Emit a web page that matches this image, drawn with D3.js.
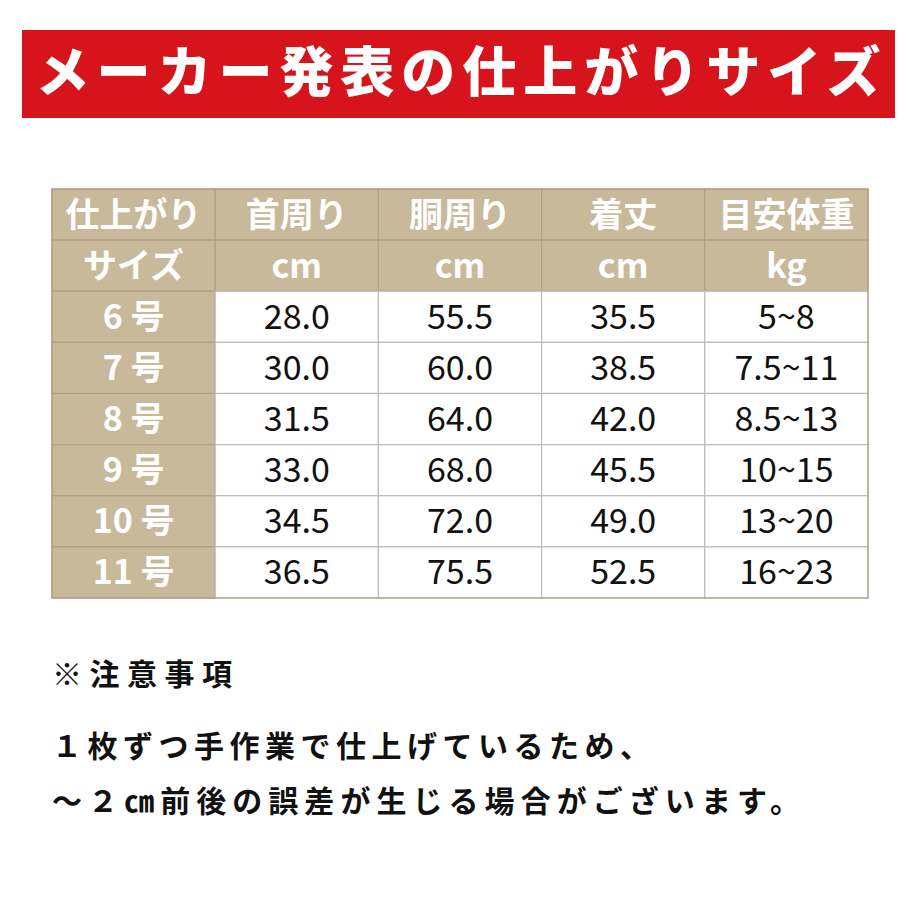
<!DOCTYPE html>
<html><head><meta charset="utf-8">
<script src="https://cdn.jsdelivr.net/npm/d3@7"></script>
<style>body{margin:0;background:#fff}</style>
</head><body>
<svg id="c" width="920" height="920"></svg>
<script>
const title = "メーカー発表の仕上がりサイズ"
const headers = ["首周り","胴周り","着丈","目安体重"]
const units = ["cm","cm","cm","kg"]
const sizes = ["6 号","7 号","8 号","9 号","10 号","11 号"]
const neck = ["28.0","30.0","31.5","33.0","34.5","36.5"]
const chest = ["55.5","60.0","64.0","68.0","72.0","75.5"]
const length = ["35.5","38.5","42.0","45.5","49.0","52.5"]
const weight = ["5~8","7.5~11","8.5~13","10~15","13~20","16~23"]
const notes = ["※注意事項","１枚ずつ手作業で仕上げているため、","～２㎝前後の誤差が生じる場合がございます。"]

const svg = d3.select("#c")
const font = "'Noto Sans CJK JP', 'Noto Sans', sans-serif"
const tan = "#c9b99b", line = "#b0a084"

// banner
svg.append("rect").attr("x",22).attr("y",30).attr("width",873).attr("height",88).attr("fill","#d7141b")
svg.append("text").attr("x",458).attr("y",92).attr("text-anchor","middle")
  .attr("font-family",font).attr("font-weight",900).attr("font-size",54).attr("fill","#fff")
  .attr("textLength",845).text(title)

// table scales
const cols = d3.range(5), rows = d3.range(8)
const x = d3.scaleBand().domain(cols).range([52,868])
const y = d3.scaleBand().domain(rows).range([189,598])
const data = [neck,chest,length,weight]

const cells = []
rows.forEach(r=>cols.forEach(c=>{
  let txt = "", head = r<2 || c===0
  if(c===0){ txt = r===0 ? "仕上がり" : r===1 ? "サイズ" : sizes[r-2] }
  else if(r===0) txt = headers[c-1]
  else if(r===1) txt = units[c-1]
  else txt = data[c-1][r-2]
  cells.push({r,c,txt,head})
}))

const g = svg.append("g")
g.selectAll("rect").data(cells).enter().append("rect")
  .attr("x",d=>x(d.c)).attr("y",d=>y(d.r))
  .attr("width",x.bandwidth()).attr("height",y.bandwidth())
  .attr("fill",d=>d.head?tan:"#fff")
  .attr("stroke",d=>d.head?line:"#bbb").attr("stroke-width",1.2)
g.selectAll("text").data(cells).enter().append("text")
  .attr("x",d=>x(d.c)+x.bandwidth()/2)
  .attr("y",d=>y(d.r)+y.bandwidth()/2+12)
  .attr("text-anchor","middle").attr("font-family",font)
  .attr("font-size",34)
  .attr("font-weight",d=>d.head?700:400)
  .attr("fill",d=>d.head?"#fff":"#111")
  .text(d=>d.txt)
// overall border
svg.append("rect").attr("x",52).attr("y",189).attr("width",816).attr("height",409)
  .attr("fill","none").attr("stroke",line).attr("stroke-width",1.2)

// notes
const noteW = [180,598,748]
svg.selectAll("text.note").data(notes).enter().append("text").attr("class","note")
  .attr("x",52).attr("y",(d,i)=>[685,757,812][i])
  .attr("font-family",font).attr("font-weight",700).attr("font-size",30).attr("fill","#111")
  .attr("textLength",(d,i)=>noteW[i]).attr("lengthAdjust","spacing")
  .text(d=>d)
</script>
</body></html>
